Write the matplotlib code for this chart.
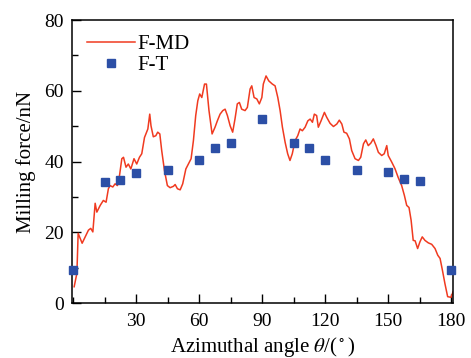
import matplotlib
matplotlib.use("Agg")
import matplotlib.pyplot as plt
from matplotlib.ticker import MultipleLocator

plt.rcParams['font.family'] = ['Liberation Serif', 'DejaVu Serif']
plt.rcParams['mathtext.fontset'] = 'stix'

md_theta = [0.5, 1.8, 2.4, 4.3, 5.7, 7.3, 8.4, 9.4, 10.5, 11.3, 12.9, 14.4, 15.7, 16.8,
            17.6, 18.9, 20.0, 21.1, 22.0, 23.2, 24.0, 25.2, 26.3, 27.5, 29.0, 30.3,
            31.6, 32.7, 34.0, 35.6, 36.5, 37.1, 38.2, 39.4, 40.3, 41.3, 42.2, 43.5,
            44.9, 46.2, 47.8, 48.6, 49.7, 51.0, 52.2, 53.7, 54.9, 56.2, 57.3, 58.4,
            59.4, 60.3, 61.3, 62.6, 63.5, 64.7, 66.2, 67.6, 68.7, 70.0, 71.3, 72.4,
            73.5, 74.8, 76.0, 77.1, 78.2, 79.2, 80.3, 81.9, 83.0, 84.3, 85.1, 86.2,
            87.5, 88.7, 89.9, 90.6, 91.9, 93.2, 94.9, 96.2, 97.5, 98.6, 99.7, 101.0,
            102.2, 103.3, 104.4, 105.7, 107.0, 108.1, 109.2, 110.5, 111.8, 112.9,
            114.0, 114.9, 116.0, 116.8, 118.1, 119.7, 120.8, 122.4, 124.0, 125.6,
            126.8, 128.0, 129.0, 130.3, 131.6, 132.7, 134.3, 135.9, 137.0, 138.3,
            139.4, 140.6, 141.8, 143.0, 144.3, 145.4, 147.0, 148.2, 149.4, 150.1,
            151.8, 153.3, 154.9, 156.5, 157.8, 158.9, 160.0, 161.0, 162.0, 162.9,
            164.1, 165.2, 166.3, 167.6, 169.2, 170.8, 172.4, 173.7, 174.8, 175.9,
            177.1, 178.4, 180.0, 181.0]
md_force = [4.6, 8.4, 19.7, 16.9, 18.6, 20.6, 21.1, 20.1, 28.2, 25.7, 27.6, 29.0, 28.5, 32.3,
            33.2, 32.8, 33.7, 33.2, 35.6, 40.8, 41.2, 38.4, 39.3, 37.9, 40.8, 39.3,
            41.2, 42.2, 46.8, 49.2, 53.4, 50.1, 47.0, 47.3, 48.3, 47.8, 43.1, 37.5,
            33.2, 32.6, 33.0, 33.5, 32.3, 32.0, 33.7, 37.9, 39.3, 40.8, 45.9, 53.0,
            57.2, 59.1, 58.1, 61.9, 61.9, 54.5, 47.8, 49.7, 51.5, 53.4, 54.4, 54.8,
            53.0, 50.1, 48.3, 52.0, 56.3, 56.7, 54.8, 54.4, 55.3, 60.5, 61.4, 58.1,
            57.7, 56.3, 58.1, 61.9, 64.2, 62.8, 61.9, 61.4, 58.1, 54.4, 49.7, 45.4,
            42.2, 40.3, 42.2, 45.9, 47.3, 49.2, 48.7, 49.7, 51.5, 52.0,
            51.1, 53.4, 53.0, 49.7, 51.5, 53.9, 52.5, 50.8, 49.9, 50.6,
            51.7, 50.6, 48.3, 48.0, 46.4, 43.1, 40.8, 40.3, 41.2, 45.0,
            46.1, 44.5, 45.2, 46.4, 44.5, 42.6, 41.7, 42.2, 44.5, 41.7,
            39.8, 38.0, 35.4, 33.2, 30.4, 27.6, 27.0, 23.4, 17.7, 17.6,
            15.4, 17.3, 18.7, 17.7, 17.0, 16.6, 15.4, 13.5, 12.6, 9.3,
            5.5, 1.8, 1.6, 3.2]

t_theta = [0, 15, 22.5, 30, 45, 60, 67.5, 75, 90, 105, 112.5, 120, 135, 150, 157.5, 165, 180]
t_force = [9.4, 34.3, 34.8, 36.8, 37.7, 40.3, 43.8, 45.1, 51.9, 45.1, 43.8, 40.3, 37.7,
           36.9, 35.0, 34.5, 9.4]

x_ticks = [30, 60, 90, 120, 150, 180]
y_ticks = [0, 20, 40, 60, 80]

fig = plt.figure(figsize=(4.71, 3.58), dpi=100)
ax = fig.add_axes([0.153, 0.1536, 0.809, 0.7904])

ax.plot(md_theta, md_force, color='#f03a20', lw=1.1, label='F-MD', zorder=2)
ax.plot(t_theta, t_force, linestyle='none', marker='s', ms=6.3, color='#2c4fa6',
        label='F-T', zorder=3, clip_on=False)

ax.set_xlim(-0.5, 181)
ax.set_ylim(0, 80)
ax.set_xticks(x_ticks)
ax.set_yticks(y_ticks)
ax.xaxis.set_minor_locator(MultipleLocator(15))
ax.yaxis.set_minor_locator(MultipleLocator(10))
ax.tick_params(which='both', direction='in', top=False, right=False, labelsize=14, width=1.0)
ax.tick_params(axis='x', which='major', length=6.5, pad=7)
ax.tick_params(axis='x', which='minor', length=4)
ax.tick_params(axis='y', which='major', length=6.5, pad=6)
ax.tick_params(axis='y', which='minor', length=4)
for s in ax.spines.values():
    s.set_linewidth(1.1)

ax.set_xlabel(r'Azimuthal angle $\theta$/($^\circ$)', fontsize=15, labelpad=4)
ax.set_ylabel('Milling force/nN', fontsize=15, labelpad=6)

leg = ax.legend(loc='upper left', bbox_to_anchor=(0.0, 1.0), frameon=False, fontsize=15,
                handlelength=2.3, handletextpad=0.15, labelspacing=0.05, borderaxespad=0.3)

fig.savefig('out.png', dpi=100)
